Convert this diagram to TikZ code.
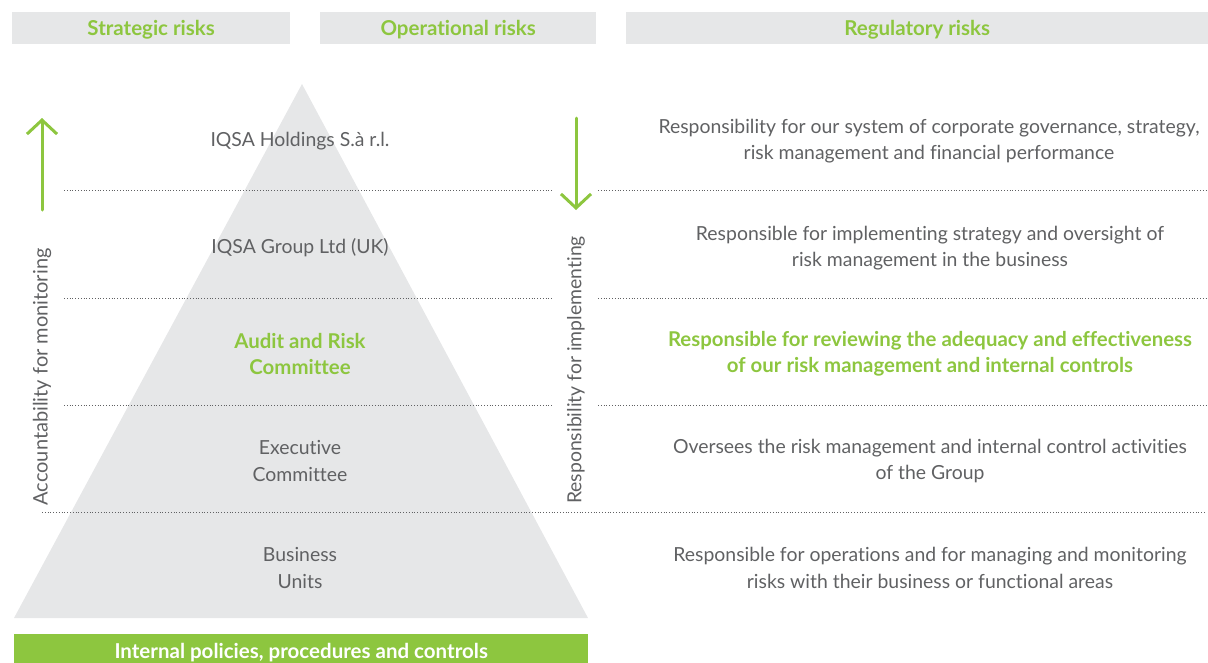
\documentclass[tikz,border=0pt]{standalone}
\usepackage{fontspec}
\setmainfont{Lato}[Ligatures=NoCommon]
\usetikzlibrary{arrows.meta}
\definecolor{leaf}{HTML}{8DC63F}
\definecolor{mist}{HTML}{E6E7E8}
\definecolor{ink}{HTML}{606163}
\tikzset{
  head/.style={fill=mist,minimum height=32pt,inner sep=0pt,text height=14pt,text depth=0pt,anchor=north west,font=\fontsize{20.5}{22}\selectfont\bfseries,text=leaf},
  tier/.style={align=center,font=\fontsize{19.4}{26.5}\selectfont,text=ink},
  key/.style={tier,font=\fontsize{20.4}{26.5}\selectfont\bfseries,text=leaf},
  sep/.style={ink,line width=.8pt,dotted},
  flow/.style={leaf,line width=3pt,line cap=round,-{Straight Barb[length=14pt,width=30pt,line width=3pt]}}
}
\begin{document}
\begin{tikzpicture}[x=1pt,y=-1pt]
\useasboundingbox(0,0)rectangle(1208,662);
\node[head,minimum width=278pt](strat)at(12,12){Strategic risks};
\node[head,minimum width=276pt](oper)at(320,12){Operational risks};
\node[head,minimum width=582pt](reg)at(626,12){Regulatory risks};
\fill[mist](302,84)--(588,618)--(14,618)--cycle;
\foreach \y in {190,298,405}{
  \draw[sep](64,\y)--(552,\y) (598,\y)--(1206,\y);
}
\draw[sep](42,512)--(1206,512);
\coordinate(upA)at(42,210);\coordinate(upB)at(42,118);
\coordinate(dnA)at(576,118);\coordinate(dnB)at(576,210);
\draw[flow](upA)--(upB);
\draw[flow](dnA)--(dnB);
\node[tier,rotate=90,font=\fontsize{20}{26}\selectfont](acc)at(42,377){Accountability for monitoring};
\node[tier,rotate=90](resp)at(576,370){Responsibility for implementing};
\node[tier](hold)at(300,141){IQSA Holdings S.à r.l.};
\node[tier](grp)at(300,248){IQSA Group Ltd (UK)};
\node[key](arc)at(300,354){Audit and Risk\\Committee};
\node[tier](exec)at(300,461){Executive\\Committee};
\node[tier](bu)at(300,568){Business\\Units};
\node[tier](holdR)at(929,141){Responsibility for our system of corporate governance, strategy,\\risk management and financial performance};
\node[tier](grpR)at(930,248){Responsible for implementing strategy and oversight of\\risk management in the business};
\node[key](arcR)at(930,354){Responsible for reviewing the adequacy and effectiveness\\of our risk management and internal controls};
\node[tier](execR)at(930,461){Oversees the risk management and internal control activities\\of the Group};
\node[tier](buR)at(930,568){Responsible for operations and for managing and monitoring\\risks with their business or functional areas};
\node[head,fill=leaf,minimum width=574pt,minimum height=34pt,text=white](base)at(14,634){Internal policies, procedures and controls};
\end{tikzpicture}
\end{document}
